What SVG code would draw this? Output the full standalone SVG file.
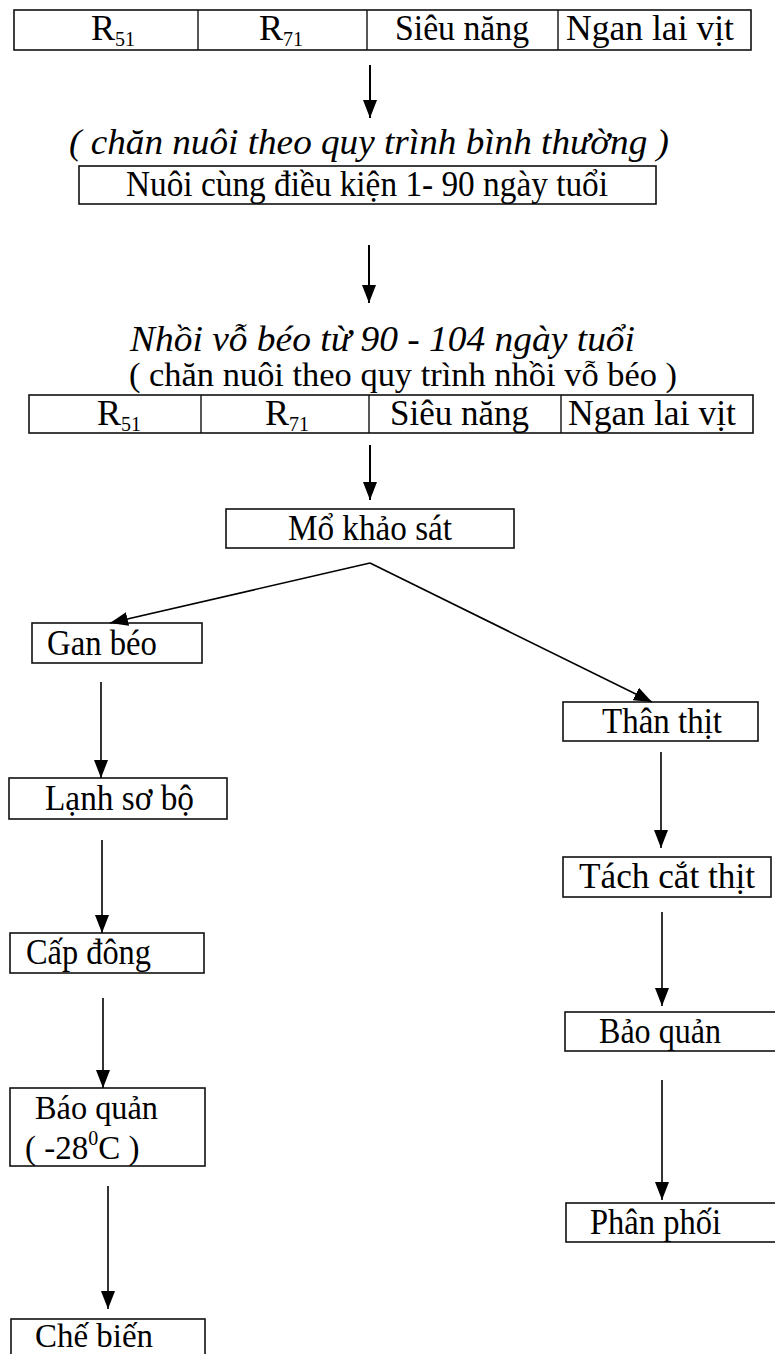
<svg xmlns="http://www.w3.org/2000/svg" width="775" height="1354" viewBox="0 0 775 1354">
  <style>
    .box { fill: #fff; stroke: #111; stroke-width: 1.6; }
    .div { stroke: #111; stroke-width: 1.4; }
    .t { font-family: "Liberation Serif", "Times New Roman", serif; font-size: 36px; fill: #000; }
    .ti { font-family: "Liberation Serif", "Times New Roman", serif; font-size: 35px; font-style: italic; fill: #000; }
    .sub { font-size: 20px; }
    .edge { stroke: #000; stroke-width: 1.6; fill: none; marker-end: url(#head); }
    .thick { stroke-width: 2; }
  </style>
  <defs>
    <marker id="head" markerUnits="userSpaceOnUse" markerWidth="20" markerHeight="14" refX="18" refY="7" orient="auto">
      <path d="M0,0 L18,7 L0,14 z" fill="#000"/>
    </marker>
  </defs>
  <rect width="775" height="1354" fill="#fff"/>

  <!-- breeds, stage 1 -->
  <g id="breeds-start">
    <rect class="box" x="14" y="10" width="737" height="40"/>
    <line class="div" x1="198" y1="10" x2="198" y2="50"/>
    <line class="div" x1="367" y1="10" x2="367" y2="50"/>
    <line class="div" x1="558" y1="10" x2="558" y2="50"/>
    <text class="t" x="91" y="40">R<tspan class="sub" dy="6">51</tspan></text>
    <text class="t" x="259" y="40">R<tspan class="sub" dy="6">71</tspan></text>
    <text class="t" x="395" y="40" textLength="134" lengthAdjust="spacingAndGlyphs">Siêu năng</text>
    <text class="t" x="566" y="40" textLength="168" lengthAdjust="spacingAndGlyphs">Ngan lai vịt</text>
  </g>

  <!-- normal rearing -->
  <g id="rearing">
    <text class="ti" x="69" y="154" textLength="600" lengthAdjust="spacingAndGlyphs">( chăn nuôi theo quy trình bình thường )</text>
    <rect class="box" x="79" y="166" width="577" height="38"/>
    <text class="t" x="126" y="196" textLength="482" lengthAdjust="spacingAndGlyphs">Nuôi cùng điều kiện 1- 90 ngày tuổi</text>
  </g>

  <!-- force-feeding stage -->
  <g id="fattening">
    <text class="ti" x="130" y="351" textLength="505" lengthAdjust="spacingAndGlyphs">Nhồi vỗ béo từ 90 - 104 ngày tuổi</text>
    <text class="t" x="129" y="386" style="font-size:34px" textLength="548" lengthAdjust="spacingAndGlyphs">( chăn nuôi theo quy trình nhồi vỗ béo )</text>
  </g>

  <!-- breeds, stage 2 -->
  <g id="breeds-fattened">
    <rect class="box" x="29" y="395" width="724" height="38"/>
    <line class="div" x1="201" y1="395" x2="201" y2="433"/>
    <line class="div" x1="369" y1="395" x2="369" y2="433"/>
    <line class="div" x1="561" y1="395" x2="561" y2="433"/>
    <text class="t" x="97" y="425">R<tspan class="sub" dy="6">51</tspan></text>
    <text class="t" x="265" y="425">R<tspan class="sub" dy="6">71</tspan></text>
    <text class="t" x="390" y="425" textLength="139" lengthAdjust="spacingAndGlyphs">Siêu năng</text>
    <text class="t" x="568" y="425" textLength="168" lengthAdjust="spacingAndGlyphs">Ngan lai vịt</text>
  </g>

  <g id="mo-khao-sat">
    <rect class="box" x="226" y="509" width="288" height="39"/>
    <text class="t" x="288" y="540" textLength="164" lengthAdjust="spacingAndGlyphs">Mổ khảo sát</text>
  </g>

  <!-- liver branch -->
  <g id="gan-beo">
    <rect class="box" x="32" y="623" width="170" height="40"/>
    <text class="t" x="47" y="655" textLength="110" lengthAdjust="spacingAndGlyphs">Gan béo</text>
  </g>
  <g id="lanh-so-bo">
    <rect class="box" x="9" y="778" width="218" height="41"/>
    <text class="t" x="45" y="810" textLength="149" lengthAdjust="spacingAndGlyphs">Lạnh sơ bộ</text>
  </g>
  <g id="cap-dong">
    <rect class="box" x="10" y="933" width="194" height="40"/>
    <text class="t" x="26" y="964" textLength="125" lengthAdjust="spacingAndGlyphs">Cấp đông</text>
  </g>
  <g id="bao-quan-lanh">
    <rect class="box" x="10" y="1088" width="195" height="78"/>
    <text class="t" x="35" y="1119" style="font-size:33px" textLength="123" lengthAdjust="spacingAndGlyphs">Báo quản</text>
    <text class="t" x="25" y="1159" style="font-size:33px">( -28<tspan class="sub" dy="-14">0</tspan><tspan dy="14">C )</tspan></text>
  </g>
  <g id="che-bien">
    <rect class="box" x="11" y="1319" width="194" height="45"/>
    <text class="t" x="35" y="1347" style="font-size:34px" textLength="118" lengthAdjust="spacingAndGlyphs">Chế biến</text>
  </g>

  <!-- carcass branch -->
  <g id="than-thit">
    <rect class="box" x="563" y="702" width="195" height="39"/>
    <text class="t" x="602" y="733" textLength="120" lengthAdjust="spacingAndGlyphs">Thân thịt</text>
  </g>
  <g id="tach-cat-thit">
    <rect class="box" x="563" y="857" width="208" height="40"/>
    <text class="t" x="579" y="888" textLength="176" lengthAdjust="spacingAndGlyphs">Tách cắt thịt</text>
  </g>
  <g id="bao-quan">
    <rect class="box" x="565" y="1012" width="220" height="39"/>
    <text class="t" x="599" y="1043" textLength="122" lengthAdjust="spacingAndGlyphs">Bảo quản</text>
  </g>
  <g id="phan-phoi">
    <rect class="box" x="566" y="1203" width="220" height="39"/>
    <text class="t" x="590" y="1234" textLength="131" lengthAdjust="spacingAndGlyphs">Phân phối</text>
  </g>

  <g id="connectors">
    <line class="edge thick" x1="370" y1="65" x2="370" y2="118"/>
    <line class="edge thick" x1="369" y1="245" x2="369" y2="303"/>
    <line class="edge thick" x1="370" y1="445" x2="370" y2="500"/>
    <line class="edge" x1="370" y1="563" x2="110" y2="623"/>
    <line class="edge" x1="370" y1="563" x2="652" y2="702"/>
    <line class="edge" x1="101" y1="682" x2="101" y2="778"/>
    <line class="edge" x1="102" y1="840" x2="102" y2="933"/>
    <line class="edge" x1="103" y1="998" x2="103" y2="1088"/>
    <line class="edge" x1="108" y1="1186" x2="108" y2="1309"/>
    <line class="edge" x1="661" y1="752" x2="661" y2="848"/>
    <line class="edge" x1="662" y1="912" x2="662" y2="1006"/>
    <line class="edge" x1="662" y1="1080" x2="662" y2="1200"/>
  </g>
</svg>
